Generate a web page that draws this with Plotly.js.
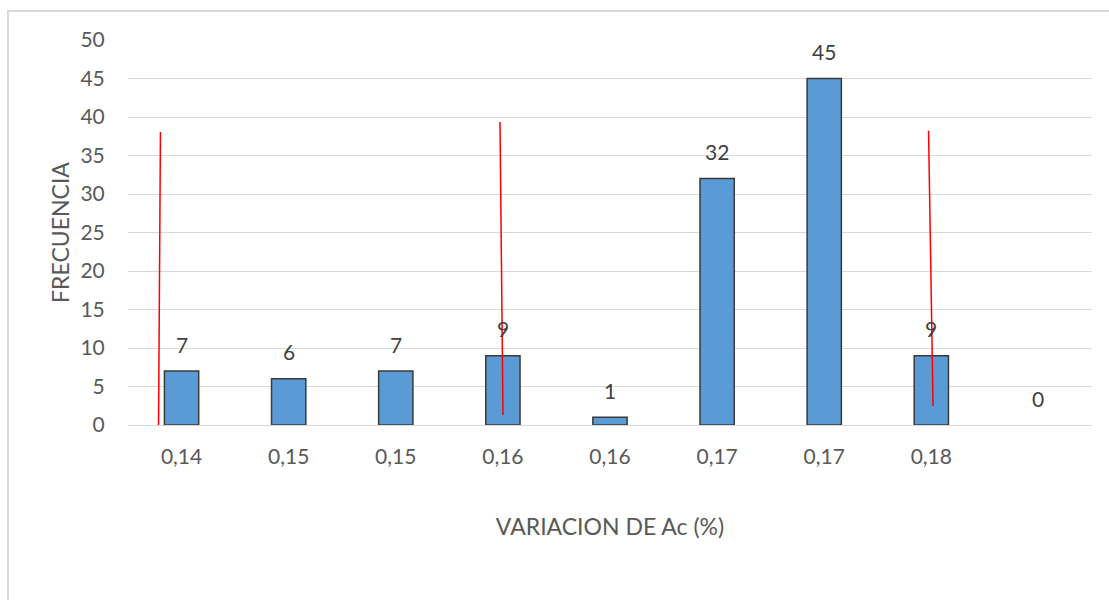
<!DOCTYPE html>
<html>
<head>
<meta charset="utf-8">
<script src="https://cdn.plot.ly/plotly-3.0.1.min.js"></script>
<style>
html,body{margin:0;padding:0;background:#fff;overflow:hidden;}
#frame{position:absolute;left:7px;top:10px;width:1200px;height:700px;border:2px solid #d9d9d9;box-sizing:border-box;}
#chart{position:absolute;left:0;top:0;width:1109px;height:600px;}
</style>
</head>
<body>
<div id="frame"></div>
<div id="chart"></div>
<script>
// Data
var categories = ["0,14", "0,15", "0,15", "0,16", "0,16", "0,17", "0,17", "0,18", ""];
var frequencies = [7, 6, 7, 9, 1, 32, 45, 9, 0];
// Red hand-drawn lines (category position, frequency), null separates lines
var redLineX = [-0.197, -0.215, null, 2.973, 3.001, null, 6.974, 7.016];
var redLineY = [38.05, 0, null, 39.35, 1.3, null, 38.2, 2.47];

var positions = categories.map(function(c, i){ return i; });
var FONT = 'Lato, Carlito, sans-serif';

var bars = {
  type: 'bar',
  x: positions,
  y: frequencies,
  width: 0.32,
  marker: {color: '#5B9BD5', line: {color: '#3a3a3a', width: frequencies.map(function(v){ return v > 0 ? 1.5 : 0; })}},
  hoverinfo: 'none',
  showlegend: false
};

var red = {
  type: 'scatter',
  mode: 'lines',
  x: redLineX,
  y: redLineY,
  line: {color: '#ff0000', width: 1.5},
  connectgaps: false,
  hoverinfo: 'none',
  showlegend: false
};

var annotations = frequencies.map(function(v, i){
  return {
    x: positions[i], y: v, xref: 'x', yref: 'y',
    text: String(v), showarrow: false,
    yanchor: 'middle', yshift: 27,
    font: {family: FONT, size: 21, color: '#404040'}
  };
});

var layout = {
  width: 1109, height: 600,
  margin: {l: 128, r: 17, t: 40, b: 175},
  paper_bgcolor: 'rgba(0,0,0,0)',
  plot_bgcolor: 'rgba(0,0,0,0)',
  font: {family: FONT, color: '#595959', size: 21},
  xaxis: {
    range: [-0.5, 8.5],
    tickmode: 'array',
    tickvals: positions,
    ticktext: categories,
    showgrid: false,
    zeroline: false,
    showline: true,
    linecolor: '#d9d9d9',
    linewidth: 1,
    ticks: 'outside', ticklen: 13, tickcolor: 'rgba(0,0,0,0)',
    tickfont: {size: 21, color: '#595959'},
    title: {text: 'VARIACION DE Ac (%)', font: {size: 23, color: '#595959'}, standoff: 51}
  },
  yaxis: {
    range: [0, 50],
    tickmode: 'array',
    tickvals: [0,5,10,15,20,25,30,35,40,45,50],
    showgrid: true,
    gridcolor: '#d9d9d9',
    gridwidth: 1,
    zeroline: false,
    showline: false,
    ticks: 'outside', ticklen: 18, tickcolor: 'rgba(0,0,0,0)',
    tickfont: {size: 21, color: '#595959'},
    title: {text: 'FRECUENCIA', font: {size: 23, color: '#595959'}, standoff: 4}
  },
  annotations: annotations,
  bargap: 0
};

Plotly.newPlot('chart', [bars, red], layout, {displayModeBar: false, staticPlot: true});
</script>
</body>
</html>
